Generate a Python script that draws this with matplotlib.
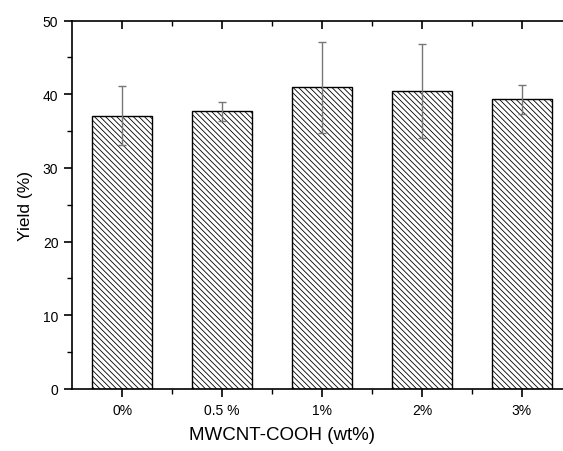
import matplotlib.pyplot as plt
import numpy as np
from matplotlib.ticker import MultipleLocator, FixedLocator

plt.rcParams['font.family'] = ['Liberation Sans', 'DejaVu Sans']
plt.rcParams['hatch.linewidth'] = 0.6
plt.rcParams['hatch.color'] = '#333333'

# data
categories = ['0%', '0.5 %', '1%', '2%', '3%']
yield_mean = [37.1, 37.7, 40.95, 40.45, 39.3]
yield_err = [4.0, 1.3, 6.2, 6.4, 2.0]

fig = plt.figure(figsize=(5.63, 4.52), dpi=100)
ax = fig.add_axes([0.1284, 0.1372, 0.8871, 0.8152])

x = np.arange(len(categories))
ax.bar(x, yield_mean, width=0.6, color='white', edgecolor='black',
       linewidth=1.0, hatch='\\\\\\\\\\\\', zorder=2)
ax.errorbar(x, yield_mean, yerr=yield_err, fmt='none', ecolor='#777777',
            elinewidth=1.0, capsize=3, capthick=1.0, zorder=3)

ax.set_xlim(-0.5, 4.5)
ax.set_ylim(0, 50)
ax.set_xticks(x)
ax.set_xticklabels(categories)
ax.xaxis.set_minor_locator(FixedLocator(x[:-1] + 0.5))
ax.yaxis.set_major_locator(MultipleLocator(10))
ax.yaxis.set_minor_locator(MultipleLocator(5))

ax.tick_params(axis='both', which='major', direction='out', length=6, width=1.2,
               labelsize=10, colors='black', pad=4)
ax.tick_params(axis='both', which='minor', direction='out', length=3.5, width=1.0)
ax.tick_params(axis='x', which='both', top=True)
# top ticks point inward
for t in ax.xaxis.get_major_ticks() + ax.xaxis.get_minor_ticks():
    t.tick2line.set_marker(3)

for s in ax.spines.values():
    s.set_linewidth(1.2)
ax.spines['right'].set_visible(False)

ax.set_ylabel('Yield (%)', fontsize=12.5)
ax.yaxis.set_label_coords(-0.079, 0.5)
ax.set_xlabel('MWCNT-COOH (wt%)', fontsize=13.5)
# label centre sits at ~282 px in the original figure
ax.xaxis.set_label_coords((282 - 72.3) / 499.4, -0.1)

fig.savefig('out.png', dpi=100)
